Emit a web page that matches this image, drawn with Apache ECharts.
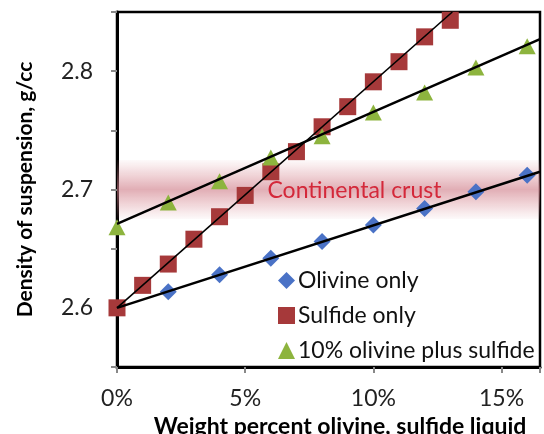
<!DOCTYPE html>
<html>
<head>
<meta charset="utf-8">
<script src="https://cdn.jsdelivr.net/npm/echarts@6/dist/echarts.min.js"></script>
<style>html,body{margin:0;padding:0;background:#fff;}#c{width:544px;height:434px;}</style>
</head>
<body>
<div id="c"></div>
<script>
// Data (x in weight percent, y in g/cc)
const olivineX = [2, 4, 6, 8, 10, 12, 14, 16];
const olivineY = [2.6135, 2.628, 2.642, 2.656, 2.670, 2.684, 2.698, 2.712];
const sulfideX = [0, 1, 2, 3, 4, 5, 6, 7, 8, 9, 10, 11, 12, 13];
const sulfideY = [2.600, 2.619, 2.637, 2.658, 2.677, 2.695, 2.715, 2.732, 2.753, 2.770, 2.791, 2.808, 2.829, 2.843];
const mixX = [0, 2, 4, 6, 8, 10, 12, 14, 16];
const mixY = [2.668, 2.689, 2.707, 2.727, 2.745, 2.765, 2.782, 2.803, 2.821];
// Trend line endpoints
const olivineTrend = [[0, 2.600], [16.5, 2.715]];
const sulfideTrend = [[0, 2.600], [13.08, 2.85]];
const mixTrend = [[0, 2.671], [16.5, 2.827]];
// Continental crust band
const crustBand = [2.675, 2.725];
const crustLabel = 'Continental crust';
const xTicks = [0, 5, 10, 15];
const yLabels = [2.6, 2.7, 2.8];

const pair = (xs, ys) => xs.map((x, i) => [x, ys[i]]);
const FONT = 'Lato';

const chart = echarts.init(document.getElementById('c'));
chart.setOption({
  animation: false,
  textStyle: { fontFamily: FONT },
  grid: { left: 117, right: 4, top: 12, bottom: 67, outerBoundsMode: 'none', containLabel: false,
    show: true, borderColor: '#000', borderWidth: 2.5, backgroundColor: 'transparent' },
  xAxis: {
    type: 'value', min: 0, max: 16.5, interval: 5,
    name: 'Weight percent olivine, sulfide liquid',
    nameLocation: 'middle', nameGap: 48,
    nameTextStyle: { fontFamily: FONT, fontSize: 23, fontWeight: 'bold', color: '#000', padding: [0, 0, 0, 23] },
    axisLine: { show: true, lineStyle: { color: '#000', width: 3 } },
    axisTick: { show: true, inside: false, length: 6, lineStyle: { color: '#888', width: 2 } },
    axisLabel: { fontFamily: FONT, fontSize: 23, color: '#222', margin: 20,
      formatter: v => (xTicks.indexOf(Math.round(v)) >= 0 ? Math.round(v) + '%' : '') },
    splitLine: { show: false }
  },
  yAxis: {
    type: 'value', min: 2.55, max: 2.85, interval: 0.05,
    name: 'Density of suspension, g/cc',
    nameLocation: 'middle', nameGap: 81,
    nameTextStyle: { fontFamily: FONT, fontSize: 21, fontWeight: 'bold', color: '#000' },
    axisLine: { show: true, lineStyle: { color: '#000', width: 3 } },
    axisTick: { show: true, inside: false, length: 6, lineStyle: { color: '#888', width: 2 } },
    axisLabel: { fontFamily: FONT, fontSize: 23, color: '#222', margin: 24,
      formatter: v => {
        const r = Math.round(v * 100) / 100;
        return yLabels.some(l => Math.abs(l - r) < 1e-6) ? r.toFixed(1) : '';
      } },
    splitLine: { show: false }
  },
  legend: {
    orient: 'vertical', left: 273, top: 264, itemGap: 12,
    itemWidth: 17, itemHeight: 17,
    textStyle: { fontFamily: FONT, fontSize: 23, color: '#111', padding: [0, 0, 0, -2] },
    data: ['Olivine only', 'Sulfide only', '10% olivine plus sulfide']
  },
  series: [
    {
      name: 'crust', type: 'line', data: [], z: 1, silent: true,
      markArea: {
        silent: true,
        itemStyle: {
          color: {
            type: 'linear', x: 0, y: 0, x2: 0, y2: 1,
            colorStops: [
              { offset: 0, color: 'rgba(214,130,140,0.04)' },
              { offset: 0.3, color: 'rgba(210,125,136,0.38)' },
              { offset: 0.5, color: 'rgba(205,120,132,0.6)' },
              { offset: 0.7, color: 'rgba(210,125,136,0.38)' },
              { offset: 1, color: 'rgba(214,130,140,0.04)' }
            ]
          }
        },
        label: { show: true, position: 'inside', offset: [26, 1], color: '#d4283a', fontFamily: FONT, fontSize: 23 },
        data: [[{ name: crustLabel, yAxis: crustBand[0] }, { yAxis: crustBand[1] }]]
      }
    },
    { name: 'Olivine only', type: 'scatter', symbol: 'diamond', symbolSize: [17, 17], z: 3,
      itemStyle: { color: '#4a72c6', opacity: 1 }, data: pair(olivineX, olivineY) },
    { name: 'Sulfide only', type: 'scatter', symbol: 'rect', symbolSize: 17, z: 3,
      itemStyle: { color: '#a6393a', opacity: 1 }, data: pair(sulfideX, sulfideY) },
    { name: '10% olivine plus sulfide', type: 'scatter', symbol: 'triangle', symbolSize: [17, 16], z: 3,
      itemStyle: { color: '#8db43e', opacity: 1 }, data: pair(mixX, mixY) },
    { name: 'olivine trend', type: 'line', data: olivineTrend, symbol: 'none', z: 4, silent: true,
      lineStyle: { color: '#000', width: 2.5 } },
    { name: 'sulfide trend', type: 'line', data: sulfideTrend, symbol: 'none', z: 4, silent: true,
      lineStyle: { color: '#000', width: 1.6 } },
    { name: 'mix trend', type: 'line', data: mixTrend, symbol: 'none', z: 4, silent: true,
      lineStyle: { color: '#000', width: 2.5 } }
  ]
});
</script>
</body>
</html>
